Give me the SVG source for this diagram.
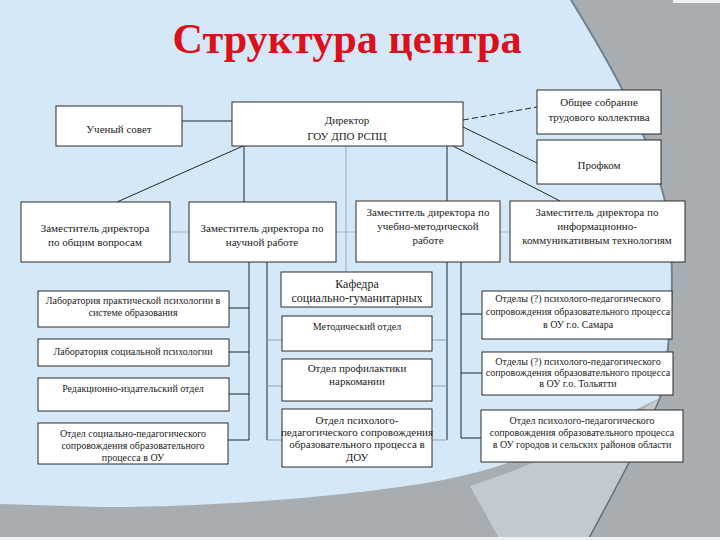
<svg xmlns="http://www.w3.org/2000/svg" width="720" height="540" viewBox="0 0 720 540">
<style>
.box{fill:#ffffff;stroke:#2a2a2a;stroke-width:1}
.t{font-family:"Liberation Serif","Times New Roman",serif;font-size:10px;fill:#1c1c1c;text-anchor:middle}
.t11{font-size:11px}
.t12{font-size:12px}
.c{stroke:#1e2833;stroke-width:1;fill:none}
.cl{stroke:#9fb6ca;stroke-width:1.2;fill:none}
.cs{stroke:#8ea3b5;stroke-width:1;fill:none}
.ttl{font-family:"Liberation Serif","Times New Roman",serif;font-size:42px;font-weight:bold;fill:#dc0f1a;text-anchor:middle}
</style>
<g id="background">
<rect width="720" height="540" fill="#a8adb1"/>
<path d="M470,486 C560,456 620,425 660,398 C640,445 612,495 588,540 L500,540 Z" fill="#c3cacf"/>
<path d="M0,0 H571 C605,55 650,130 667,210 C676,270 672,340 660,398 C590,432 520,465 443,480 C350,497 200,508 100,507 L0,504 Z" fill="#d4e8f8"/>
<path d="M571,0 C605,55 650,130 667,210 C676,270 672,340 660,398" fill="none" stroke="#6f8291" stroke-width="2"/>
<path d="M660,398 C640,445 612,495 588,540" fill="none" stroke="#5f707e" stroke-width="1.5"/>
<rect x="673" y="0" width="47" height="3" fill="#eef1f3"/>
<rect x="0" y="537" width="720" height="3" fill="#eef1f3"/>
</g>
<text class="ttl" x="347" y="53" textLength="349" lengthAdjust="spacingAndGlyphs">Структура центра</text>
<g id="connectors">
<path class="cl" d="M346,146 V272"/>
<path class="cl" d="M21,232 H685"/>
<path class="c" d="M182,121 H232"/>
<path class="c" d="M463,120 L537,107" stroke-dasharray="6 3"/>
<path class="c" d="M463,127 L537,163"/>
<path class="c" d="M243,146 L117,202"/>
<path class="c" d="M244,146 V202"/>
<path class="c" d="M447,146 V201"/>
<path class="c" d="M453,146 L560,201"/>
<path class="c" d="M249,262 V440 M229,308 H249 M229,352 H249 M229,394 H249 M228,440 H249"/>
<path class="c" d="M267,262 V440"/>
<path class="cs" d="M267,340 H282 M267,386 H282 M267,440 H282"/>
<path class="c" d="M447,262 V440"/>
<path class="cs" d="M432,340 H447 M432,386 H447 M432,440 H447"/>
<path class="c" d="M461,262 V438 M461,314 H482 M461,373 H482 M461,438 H481"/>
</g>
<g id="uchsovet"><rect class="box" x="56" y="106" width="126" height="40"/><text class="t t11" x="119" y="133">Ученый совет</text></g>
<g id="director"><rect class="box" x="232" y="102" width="231" height="44"/><text class="t t11" x="347" y="124">Директор</text><text class="t t11" x="347" y="140">ГОУ ДПО РСПЦ</text></g>
<g id="obshchee"><rect class="box" x="537" y="90" width="124" height="44"/><text class="t t11" x="599" y="106">Общее собрание</text><text class="t t11" x="599" y="121">трудового коллектива</text></g>
<g id="profkom"><rect class="box" x="537" y="140" width="124" height="44"/><text class="t t11" x="599" y="169">Профком</text></g>
<g id="dep1"><rect class="box" x="21" y="202" width="149" height="60"/><text class="t t11" x="95" y="232">Заместитель директора</text><text class="t t11" x="95" y="246">по общим вопросам</text></g>
<g id="dep2"><rect class="box" x="189" y="202" width="147" height="60"/><text class="t t11" x="262" y="232">Заместитель директора по</text><text class="t t11" x="262" y="246">научной работе</text></g>
<g id="dep3"><rect class="box" x="356" y="201" width="144" height="61"/><text class="t t11" x="428" y="216">Заместитель директора по</text><text class="t t11" x="428" y="230">учебно-методической</text><text class="t t11" x="428" y="244">работе</text></g>
<g id="dep4"><rect class="box" x="510" y="201" width="175" height="61"/><text class="t t11" x="597" y="216">Заместитель директора по</text><text class="t t11" x="597" y="230">информационно-</text><text class="t t11" x="597" y="244">коммуникативным технологиям</text></g>
<g id="lab1"><rect class="box" x="38" y="291" width="191" height="36"/><text class="t" x="133" y="304">Лаборатория практической психологии в</text><text class="t" x="133" y="316">системе образования</text></g>
<g id="lab2"><rect class="box" x="38" y="339" width="191" height="27"/><text class="t" x="133" y="355">Лаборатория социальной психологии</text></g>
<g id="redak"><rect class="box" x="38" y="378" width="191" height="33"/><text class="t" x="133" y="392">Редакционно-издательский отдел</text></g>
<g id="socped"><rect class="box" x="38" y="423" width="190" height="41"/><text class="t" x="133" y="437">Отдел социально-педагогического</text><text class="t" x="133" y="449">сопровождения образовательного</text><text class="t" x="133" y="461">процесса в ОУ</text></g>
<g id="kafedra"><rect class="box" x="281" y="272" width="151" height="35"/><text class="t t12" x="357" y="288">Кафедра</text><text class="t t12" x="357" y="302">социально-гуманитарных</text></g>
<g id="metod"><rect class="box" x="282" y="316" width="150" height="35"/><text class="t" x="357" y="330">Методический отдел</text></g>
<g id="profil"><rect class="box" x="282" y="359" width="150" height="42"/><text class="t t11" x="357" y="372">Отдел профилактики</text><text class="t t11" x="357" y="385">наркомании</text></g>
<g id="dou"><rect class="box" x="282" y="409" width="150" height="58"/><text class="t t11" x="357" y="424">Отдел психолого-</text><text class="t t11" x="357" y="436">педагогического сопровождения</text><text class="t t11" x="357" y="448">образовательного процесса в</text><text class="t t11" x="357" y="461">ДОУ</text></g>
<g id="samara"><rect class="box" x="482" y="291" width="190" height="48"/><text class="t" x="578" y="302">Отделы (?) психолого-педагогического</text><text class="t" x="578" y="315">сопровождения образовательного процесса</text><text class="t" x="578" y="328">в ОУ г.о. Самара</text></g>
<g id="tolyatti"><rect class="box" x="482" y="352" width="191" height="43"/><text class="t" x="578" y="365">Отделы (?) психолого-педагогического</text><text class="t" x="578" y="376">сопровождения образовательного процесса</text><text class="t" x="578" y="387">в ОУ г.о. Тольятти</text></g>
<g id="oblast"><rect class="box" x="481" y="410" width="202" height="52"/><text class="t" x="582" y="424">Отдел психолого-педагогического</text><text class="t" x="582" y="436">сопровождения образовательного процесса</text><text class="t" x="582" y="448">в ОУ городов и сельских районов области</text></g>
</svg>
